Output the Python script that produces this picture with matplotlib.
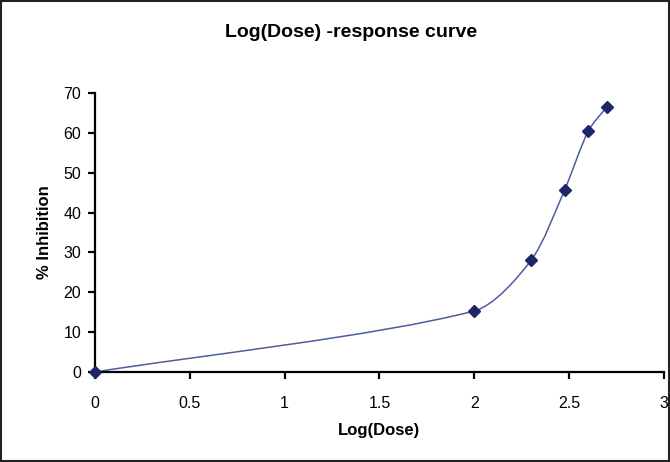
import matplotlib.pyplot as plt
import matplotlib.patches as patches
from matplotlib.path import Path
import numpy as np

plt.rcParams['font.family'] = ['Liberation Sans', 'DejaVu Sans']

log_dose = [0, 2, 2.301, 2.477, 2.602, 2.699]
inhibition = [0, 15.3, 28.1, 45.7, 60.5, 66.5]

x_ticks = [0, 0.5, 1, 1.5, 2, 2.5, 3]
x_tick_labels = ['0', '0.5', '1', '1.5', '2', '2.5', '3']
y_ticks = [0, 10, 20, 30, 40, 50, 60, 70]

line_color = '#4e5d9c'
marker_color = '#1f2668'


def smooth_path(xs, ys, sx, sy, k=0.27):
    # smoothed line as cubic bezier segments, worked out in screen-like units
    pts = np.column_stack([np.asarray(xs) * sx, np.asarray(ys) * sy]).astype(float)
    n = len(pts)
    tang = []
    for i in range(n):
        a = pts[max(i - 1, 0)]
        b = pts[min(i + 1, n - 1)]
        d = b - a
        tang.append(d / np.hypot(*d))
    verts = [pts[0]]
    codes = [Path.MOVETO]
    for i in range(n - 1):
        L = np.hypot(*(pts[i + 1] - pts[i]))
        c1 = pts[i] + tang[i] * L * k
        c2 = pts[i + 1] - tang[i + 1] * L * k
        verts += [c1, c2, pts[i + 1]]
        codes += [Path.CURVE4] * 3
    verts = np.array(verts) / [sx, sy]
    return Path(verts, codes)


fig = plt.figure(figsize=(6.7, 4.62), dpi=100)
ax = fig.add_axes([0.1418, 0.1948, 0.849, 0.604])

ax.add_patch(patches.PathPatch(smooth_path(log_dose, inhibition, 569 / 3, 279 / 70),
                               facecolor='none', edgecolor=line_color, linewidth=1.1, zorder=2))
ax.plot(log_dose, inhibition, linestyle='none', marker='D', markersize=6.5,
        color=marker_color, zorder=3, clip_on=False)

ax.set_xlim(0, 3)
ax.set_ylim(0, 70)
ax.set_xticks(x_ticks)
ax.set_xticklabels(x_tick_labels)
ax.set_yticks(y_ticks)

for side in ['top', 'right']:
    ax.spines[side].set_visible(False)
for side in ['left', 'bottom']:
    ax.spines[side].set_linewidth(1.6)
    ax.spines[side].set_color('black')

ax.tick_params(axis='both', direction='out', length=5, width=1.6, labelsize=11.5)
ax.tick_params(axis='x', pad=12)
ax.tick_params(axis='y', pad=5)

ax.set_xlabel('Log(Dose)', fontsize=12, fontweight='bold', labelpad=9)
ax.set_ylabel('% Inhibition', fontsize=12, fontweight='bold', labelpad=8)

fig.text(0.5246, 0.929, 'Log(Dose) -response curve', ha='center', va='center',
         fontsize=14, fontweight='bold')

fig.patches.append(patches.Rectangle((0.0015, 0.002), 0.997, 0.996, transform=fig.transFigure,
                                     fill=False, edgecolor='#222222', linewidth=1.5))

fig.savefig('out.png', dpi=100)
